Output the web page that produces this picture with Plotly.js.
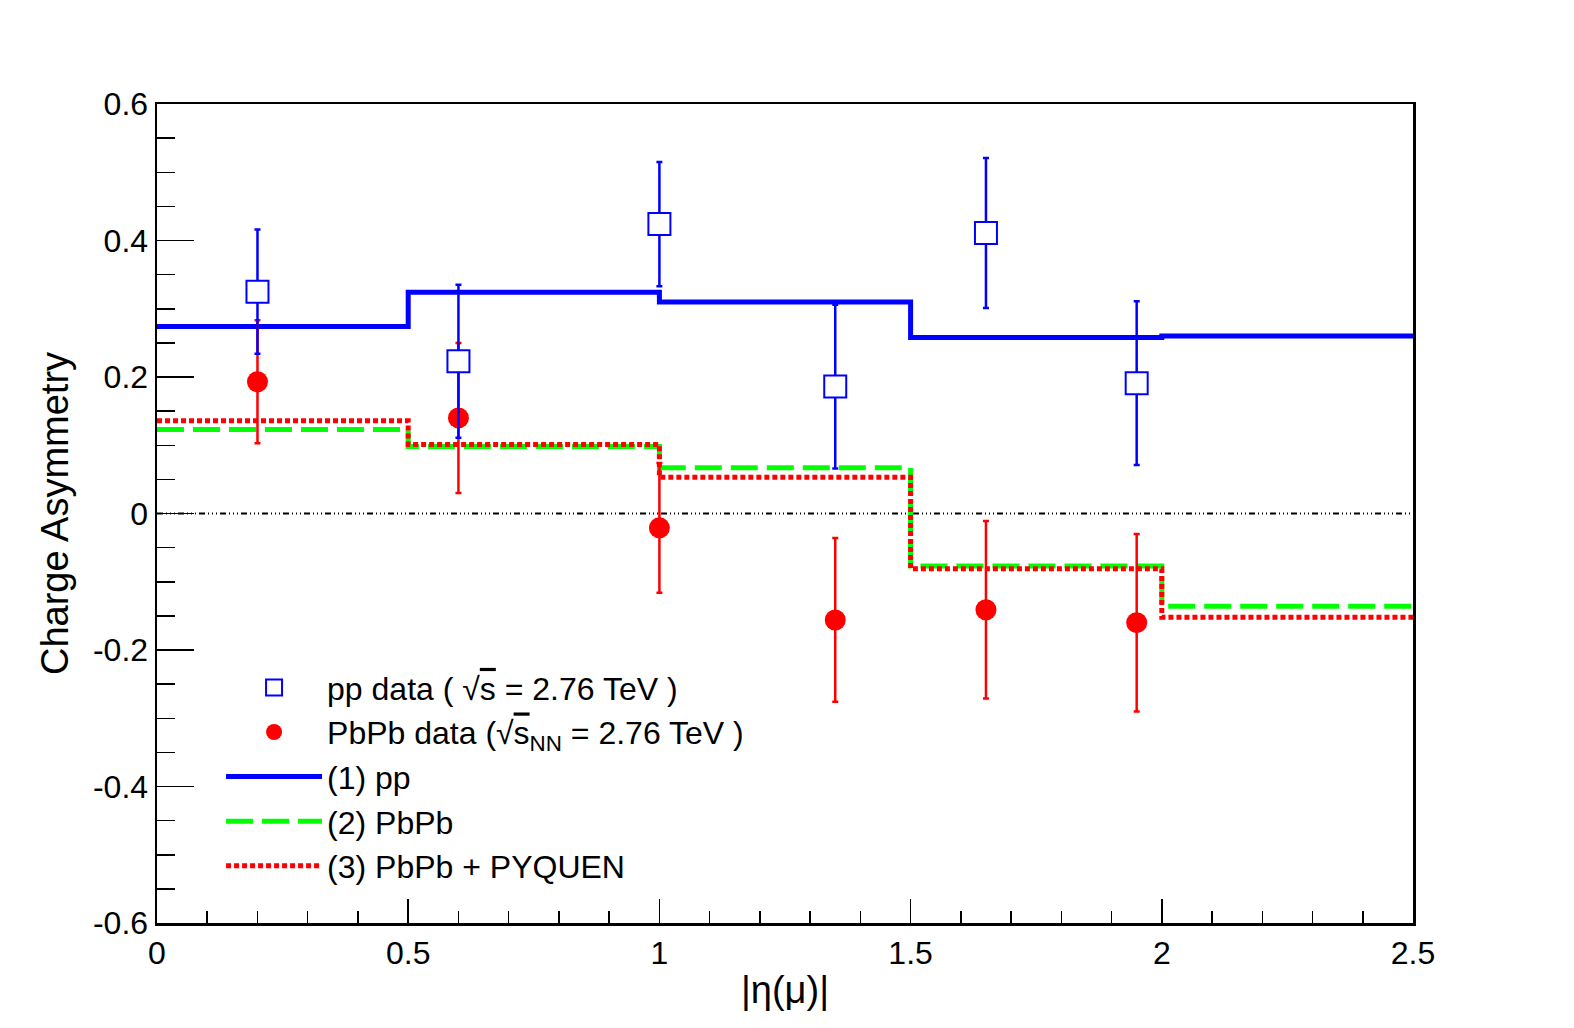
<!DOCTYPE html>
<html>
<head>
<meta charset="utf-8">
<script src="https://cdn.plot.ly/plotly-3.0.1.min.js"></script>
<style>
  body { margin: 0; background: #fff; }
  #chart { width: 1574px; height: 1028px; }
</style>
</head>
<body>
<div id="chart"></div>
<script>
// |eta| bin centres of the measured points
var etaPoints = [0.2, 0.6, 1.0, 1.35, 1.65, 1.95];
var ppData = [0.325, 0.223, 0.424, 0.186, 0.411, 0.191];
var ppErr = [0.091, 0.112, 0.091, 0.12, 0.11, 0.12];
var pbpbData = [0.193, 0.140, -0.021, -0.156, -0.141, -0.160];
var pbpbErr = [0.090, 0.110, 0.095, 0.120, 0.130, 0.130];

// model histograms, bin edges + one value per bin
var binEdges = [0, 0.5, 1.0, 1.5, 2.0, 2.5];
var model1pp = [0.274, 0.324, 0.310, 0.258, 0.260];
var model2PbPb = [0.123, 0.098, 0.067, -0.077, -0.136];
var model3Pyquen = [0.136, 0.101, 0.053, -0.081, -0.152];

// y tick labels, ROOT style with plain hyphen
var yTicks = [-0.6, -0.4, -0.2, 0, 0.2, 0.4, 0.6];
var yTickText = ["-0.6", "-0.4", "-0.2", "0", "0.2", "0.4", "0.6"];

// repeat last bin so the 'hv' step closes at the upper edge
function stepY(v) { return v.concat([v[v.length - 1]]); }

var font = "Liberation Sans, Arial, sans-serif";

var traces = [
  {
    x: binEdges, y: stepY(model1pp), type: "scatter", mode: "lines",
    line: { shape: "hv", color: "#0000ff", width: 5 },
    name: "(1) pp", legendrank: 3
  },
  {
    x: binEdges, y: stepY(model2PbPb), type: "scatter", mode: "lines",
    line: { shape: "hv", color: "#00ff00", width: 5, dash: "27px,9px" },
    name: "(2) PbPb", legendrank: 4
  },
  {
    x: binEdges, y: stepY(model3Pyquen), type: "scatter", mode: "lines",
    line: { shape: "hv", color: "#ff0000", width: 5, dash: "5px,3px" },
    name: "(3) PbPb + PYQUEN", legendrank: 5
  },
  {
    x: etaPoints, y: pbpbData, type: "scatter", mode: "markers",
    marker: { symbol: "circle", size: 21, color: "#ff0000" },
    error_y: { type: "data", array: pbpbErr, color: "#ff0000", thickness: 2.5, width: 3 },
    name: 'PbPb data (√<span style="text-decoration:overline">s</span><sub>NN</sub> = 2.76 TeV )',
    legendrank: 2
  },
  {
    x: etaPoints, y: ppData, type: "scatter", mode: "markers",
    marker: { symbol: "square", size: 22, color: "#ffffff", line: { color: "#0000ff", width: 2 } },
    error_y: { type: "data", array: ppErr, color: "#0000ff", thickness: 2.5, width: 3 },
    name: 'pp data ( √<span style="text-decoration:overline">s</span> = 2.76 TeV )',
    legendrank: 1
  }
];

var layout = {
  width: 1574,
  height: 1028,
  margin: { l: 157, r: 161, t: 104, b: 105 },
  paper_bgcolor: "#ffffff",
  plot_bgcolor: "#ffffff",
  font: { family: font, color: "#000000", size: 32 },
  showlegend: true,
  legend: {
    x: 0.051, y: 0.321, xanchor: "left", yanchor: "top",
    bgcolor: "rgba(0,0,0,0)", font: { size: 32 }, itemwidth: 96
  },
  xaxis: {
    range: [0, 2.5], dtick: 0.5, tick0: 0,
    ticks: "inside", ticklen: 24, tickwidth: 1.5, tickcolor: "#000",
    minor: { dtick: 0.1, ticks: "inside", ticklen: 12, tickwidth: 1.5, tickcolor: "#000" },
    showgrid: false, zeroline: false,
    showline: true, mirror: true, linewidth: 2.5, linecolor: "#000",
    tickfont: { size: 32 },
    title: { text: "|η(μ)|", font: { size: 38 }, standoff: 7 }
  },
  yaxis: {
    range: [-0.6, 0.6],
    tickmode: "array", tickvals: yTicks, ticktext: yTickText,
    ticks: "inside", ticklen: 37, tickwidth: 1.5, tickcolor: "#000",
    minor: { dtick: 0.05, tick0: 0, ticks: "inside", ticklen: 18, tickwidth: 1.5, tickcolor: "#000" },
    showgrid: false, zeroline: false,
    showline: true, mirror: true, linewidth: 2.5, linecolor: "#000",
    tickfont: { size: 32 },
    title: { text: "Charge Asymmetry", font: { size: 38 }, standoff: 13 }
  },
  shapes: [{
    type: "line", xref: "paper", x0: 0, x1: 1, yref: "y", y0: 0, y1: 0,
    line: { color: "#000", width: 2, dash: "6px,3px,1px,3px,1px,3px,1px,3px" },
    layer: "below"
  }]
};

Plotly.newPlot("chart", traces, layout, { displayModeBar: false, staticPlot: true });
</script>
</body>
</html>
